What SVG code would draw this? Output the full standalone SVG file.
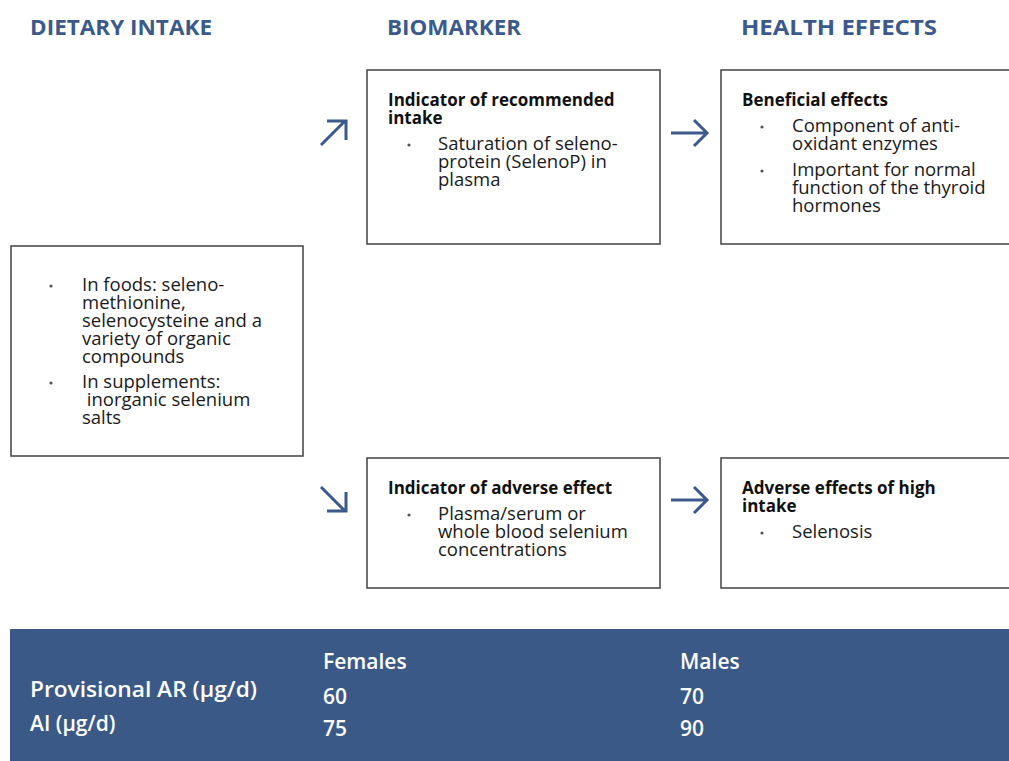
<svg xmlns="http://www.w3.org/2000/svg" width="1009" height="761" viewBox="0 0 1009 761">
<defs>
<style>
.hdr{font-family:"Open Sans","Liberation Sans",sans-serif;font-weight:700;font-size:21px;fill:#3b5a8b}
.box{fill:#fff;stroke:#4d4d4d;stroke-width:1.6}
.ttl{font-family:"Open Sans","Liberation Sans",sans-serif;font-weight:700;font-size:17px;fill:#111}
.txt{font-family:"Open Sans","Liberation Sans",sans-serif;font-weight:400;font-size:18.5px;fill:#1a1a1a}
.dot{fill:#555}
.arr{fill:none;stroke:#3b5a8b;stroke-width:3;stroke-linecap:butt;stroke-linejoin:miter}
.ban{font-family:"Open Sans","Liberation Sans",sans-serif;font-weight:600;font-size:21px;fill:#fff}
</style>
</defs>
<rect width="1009" height="761" fill="#fff"/>
<g id="headers">
<text class="hdr" x="30" y="35" textLength="182" lengthAdjust="spacingAndGlyphs">DIETARY INTAKE</text>
<text class="hdr" x="387" y="35" textLength="134" lengthAdjust="spacingAndGlyphs">BIOMARKER</text>
<text class="hdr" x="741" y="35" textLength="196" lengthAdjust="spacingAndGlyphs">HEALTH EFFECTS</text>
</g>
<g id="dietary-intake">
<rect class="box" x="11" y="246" width="292" height="210"/>
<circle class="dot" cx="51" cy="286" r="1.6"/>
<text class="txt" x="82" y="291">In foods: seleno-</text>
<text class="txt" x="82" y="309">methionine,</text>
<text class="txt" x="82" y="327">selenocysteine and a</text>
<text class="txt" x="82" y="345">variety of organic</text>
<text class="txt" x="82" y="363">compounds</text>
<circle class="dot" cx="51" cy="383" r="1.6"/>
<text class="txt" x="82" y="388">In supplements:</text>
<text class="txt" x="82" y="406" xml:space="preserve"> inorganic selenium</text>
<text class="txt" x="82" y="424">salts</text>
</g>
<g id="indicator-recommended">
<rect class="box" x="367" y="70" width="293" height="174"/>
<text class="ttl" x="388" y="106">Indicator of recommended</text>
<text class="ttl" x="388" y="124">intake</text>
<circle class="dot" cx="409" cy="145" r="1.6"/>
<text class="txt" x="438" y="150">Saturation of seleno-</text>
<text class="txt" x="438" y="168">protein (SelenoP) in</text>
<text class="txt" x="438" y="186">plasma</text>
</g>
<g id="beneficial-effects">
<rect class="box" x="721" y="70" width="300" height="174"/>
<text class="ttl" x="742" y="106">Beneficial effects</text>
<circle class="dot" cx="762" cy="127" r="1.6"/>
<text class="txt" x="792" y="132">Component of anti-</text>
<text class="txt" x="792" y="150">oxidant enzymes</text>
<circle class="dot" cx="762" cy="171" r="1.6"/>
<text class="txt" x="792" y="176">Important for normal</text>
<text class="txt" x="792" y="194">function of the thyroid</text>
<text class="txt" x="792" y="212">hormones</text>
</g>
<g id="indicator-adverse">
<rect class="box" x="367" y="458" width="293" height="130"/>
<text class="ttl" x="388" y="494">Indicator of adverse effect</text>
<circle class="dot" cx="409" cy="515" r="1.6"/>
<text class="txt" x="438" y="520">Plasma/serum or</text>
<text class="txt" x="438" y="538">whole blood selenium</text>
<text class="txt" x="438" y="556">concentrations</text>
</g>
<g id="adverse-effects">
<rect class="box" x="721" y="458" width="300" height="130"/>
<text class="ttl" x="742" y="494">Adverse effects of high</text>
<text class="ttl" x="742" y="512">intake</text>
<circle class="dot" cx="762" cy="533" r="1.6"/>
<text class="txt" x="792" y="538">Selenosis</text>
</g>
<g id="connectors">
<path class="arr" d="M321,145 L345,121 M327,121 H346 V140"/>
<path class="arr" d="M671,133 H707 M694,120 L707,133 L694,146"/>
<path class="arr" d="M321,487 L345,511 M327,511 H346 V492"/>
<path class="arr" d="M671,500 H707 M694,487 L707,500 L694,513"/>
</g>
<g id="intake-table">
<rect x="10" y="629" width="999" height="132" fill="#3a5987"/>
<text class="ban" x="323" y="669">Females</text>
<text class="ban" x="680" y="669">Males</text>
<text class="ban" x="30" y="697" textLength="227" lengthAdjust="spacingAndGlyphs">Provisional AR (µg/d)</text>
<text class="ban" x="323" y="704">60</text>
<text class="ban" x="680" y="704">70</text>
<text class="ban" x="30" y="731">AI (µg/d)</text>
<text class="ban" x="323" y="736">75</text>
<text class="ban" x="680" y="736">90</text>
</g>
</svg>
